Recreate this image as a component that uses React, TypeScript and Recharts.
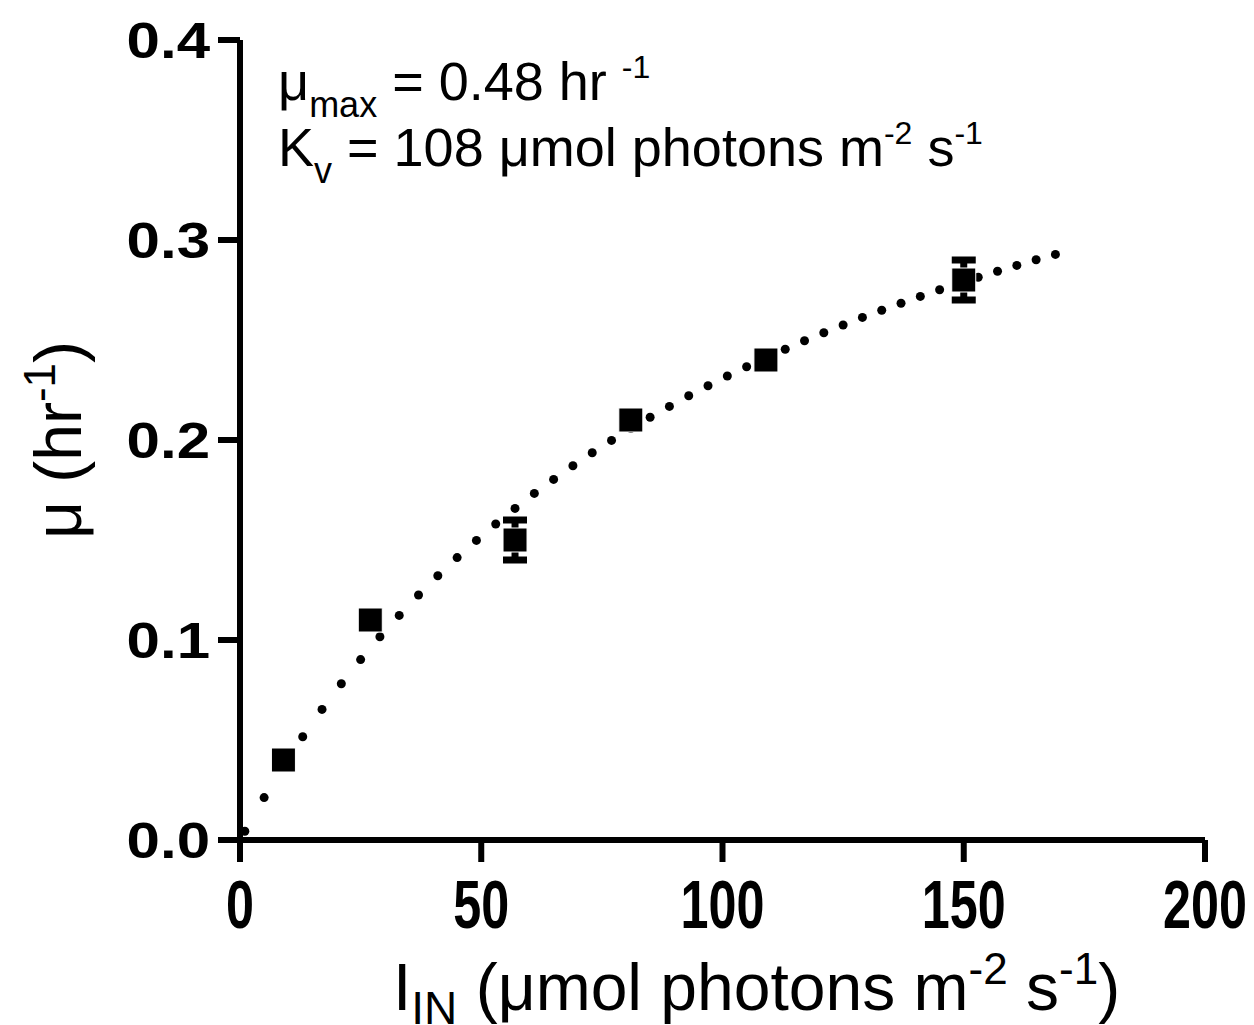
import React from "react";
import {
  ScatterChart,
  Scatter,
  XAxis,
  YAxis,
  ErrorBar,
  Customized,
} from "recharts";

// Measured growth rates (mean ± error)
const lightLevels = [9, 27, 57, 81, 109, 150];
const growthRates = [0.04, 0.11, 0.15, 0.21, 0.24, 0.28];
const growthErrors = [0, 0, 0.01, 0, 0, 0.01];

// Dotted fit curve, dots
const fitLight = [
  1, 5, 9, 13, 17, 21, 25, 29, 33, 37, 41, 45, 49, 53, 57, 61, 65, 69, 73, 77,
  81, 85, 89, 93, 97, 101, 105, 109, 113, 117, 121, 125, 129, 133, 137, 141,
  145, 149, 153, 157, 161, 165, 169,
];
const fitRate = [
  0.0044, 0.0212, 0.0369, 0.0516, 0.0653, 0.0781, 0.0902, 0.1016, 0.1123,
  0.1225, 0.1321, 0.1412, 0.1498, 0.158, 0.1658, 0.1733, 0.1803, 0.1871,
  0.1936, 0.1998, 0.2057, 0.2114, 0.2168, 0.2221, 0.2271, 0.232, 0.2366,
  0.2411, 0.2454, 0.2496, 0.2536, 0.2575, 0.2613, 0.2649, 0.2684, 0.2718,
  0.2751, 0.2783, 0.2814, 0.2844, 0.2873, 0.2901, 0.2928,
];

const xTicks = [0, 50, 100, 150, 200];
const yTicks = [0, 0.1, 0.2, 0.3, 0.4];
const yTickLabels = ["0.0", "0.1", "0.2", "0.3", "0.4"];

const measured = lightLevels.map((x, i) => ({
  x,
  y: growthRates[i],
  err: growthErrors[i],
}));
const fit = fitLight.map((x, i) => ({ x, y: fitRate[i] }));

const FONT = '"Liberation Sans", Arial, Helvetica, sans-serif';

const SquareShape = (props: any) => {
  const { cx, cy } = props;
  if (cx == null || cy == null) return null;
  const s = 24;
  return (
    <rect
      x={cx - s / 2}
      y={cy - s / 2}
      width={s}
      height={s}
      fill="#000"
      stroke="#fff"
      strokeWidth={1}
    />
  );
};

const DotShape = (props: any) => {
  const { cx, cy } = props;
  if (cx == null || cy == null) return null;
  return <circle cx={cx} cy={cy} r={4.5} fill="#000" />;
};

const YTick = (props: any) => {
  const { x, y, payload } = props;
  const idx = yTicks.indexOf(payload.value);
  const label = idx >= 0 ? yTickLabels[idx] : String(payload.value);
  return (
    <text
      transform={`translate(${x},${y}) scale(1.2,1)`}
      textAnchor="end"
      dy={18}
      fontFamily={FONT}
      fontWeight="bold"
      fontSize={50}
      fill="#000"
    >
      {label}
    </text>
  );
};

const XTick = (props: any) => {
  const { x, y, payload } = props;
  return (
    <text
      transform={`translate(${x},${y}) scale(0.74,1)`}
      textAnchor="middle"
      dy={64}
      fontFamily={FONT}
      fontWeight="bold"
      fontSize={68}
      fill="#000"
    >
      {payload.value}
    </text>
  );
};

const Annotations = () => (
  <g fontFamily={FONT} fill="#000">
    <text x={278} y={100} fontSize={54}>
      μ
      <tspan fontSize={36} dy={17}>
        max
      </tspan>
      <tspan dy={-17}> = 0.48 hr </tspan>
      <tspan fontSize={32} dy={-22}>
        -1
      </tspan>
    </text>
    <text x={278} y={166} fontSize={54}>
      K
      <tspan fontSize={36} dy={17}>
        v
      </tspan>
      <tspan dy={-17}> = 108 μmol photons m</tspan>
      <tspan fontSize={32} dy={-22}>
        -2
      </tspan>
      <tspan dy={22}> s</tspan>
      <tspan fontSize={32} dy={-22}>
        -1
      </tspan>
    </text>
    <text x={393} y={1010} fontSize={66}>
      I
      <tspan fontSize={46} dy={14}>
        IN
      </tspan>
      <tspan dy={-14}> (μmol photons m</tspan>
      <tspan fontSize={44} dy={-26}>
        -2
      </tspan>
      <tspan dy={26}> s</tspan>
      <tspan fontSize={44} dy={-26}>
        -1
      </tspan>
      <tspan dy={26}>)</tspan>
    </text>
    <text
      transform="translate(81,440) rotate(-90)"
      textAnchor="middle"
      fontSize={66}
    >
      μ (hr
      <tspan fontSize={44} dy={-26}>
        -1
      </tspan>
      <tspan dy={26}>)</tspan>
    </text>
  </g>
);

export default function App() {
  return (
    <div style={{ position: "absolute", left: 0, top: 0, background: "#fff" }}>
      <ScatterChart
        width={1254}
        height={1025}
        margin={{ top: 40, right: 49, bottom: 85, left: 100 }}
      >
        <XAxis
          type="number"
          dataKey="x"
          domain={[0, 200]}
          ticks={xTicks}
          interval={0}
          height={100}
          tickSize={22}
          axisLine={{ stroke: "#000", strokeWidth: 6 }}
          tickLine={{ stroke: "#000", strokeWidth: 6 }}
          tick={<XTick />}
        />
        <YAxis
          type="number"
          dataKey="y"
          domain={[0, 0.4]}
          ticks={yTicks}
          interval={0}
          width={140}
          tickSize={22}
          tickMargin={8}
          axisLine={{ stroke: "#000", strokeWidth: 6 }}
          tickLine={{ stroke: "#000", strokeWidth: 6 }}
          tick={<YTick />}
        />
        <Scatter
          data={fit}
          shape={<DotShape />}
          isAnimationActive={false}
        />
        <Scatter
          data={measured}
          shape={<SquareShape />}
          isAnimationActive={false}
        >
          <ErrorBar
            dataKey="err"
            direction="y"
            width={12}
            strokeWidth={7}
            stroke="#000"
            style={{ strokeWidth: 7 }}
            isAnimationActive={false}
          />
        </Scatter>
        <Customized component={<Annotations />} />
      </ScatterChart>
    </div>
  );
}
